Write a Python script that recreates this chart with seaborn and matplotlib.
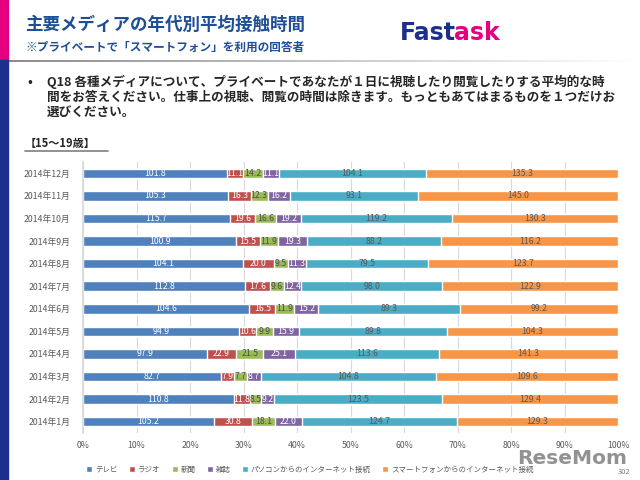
import matplotlib
matplotlib.use("Agg")
import matplotlib.pyplot as plt
import numpy as np
import pandas as pd
import seaborn as sns

months = ["2014年1月", "2014年2月", "2014年3月", "2014年4月", "2014年5月", "2014年6月",
          "2014年7月", "2014年8月", "2014年9月", "2014年10月", "2014年11月", "2014年12月"]
media = ["テレビ", "ラジオ", "新聞", "雑誌", "パソコンからのインターネット接続", "スマートフォンからのインターネット接続"]

tv = [105.2, 110.8, 82.7, 97.9, 94.9, 104.6, 112.8, 104.1, 100.9, 115.7, 105.3, 101.8]
radio = [30.8, 11.8, 7.9, 22.9, 10.6, 16.5, 17.6, 20.0, 15.5, 19.6, 16.3, 11.1]
news = [18.1, 8.5, 7.7, 21.5, 9.9, 11.9, 9.6, 9.5, 11.9, 16.6, 12.3, 14.2]
magazine = [22.0, 9.2, 8.7, 25.1, 15.9, 15.2, 12.4, 11.3, 19.3, 19.2, 16.2, 11.1]
pc = [124.7, 123.5, 104.8, 113.6, 89.8, 89.3, 98.0, 79.5, 88.2, 119.2, 93.1, 104.1]
phone = [129.3, 129.4, 109.6, 141.3, 104.3, 99.2, 122.9, 123.7, 116.2, 130.3, 145.0, 135.3]

colors = ["#4F81BD", "#C0504D", "#9BBB59", "#8064A2", "#4BACC6", "#F79646"]
text_colors = ["white", "white", "#4d4d4d", "white", "#595959", "#595959"]

sns.set_theme(style="white")
plt.rcParams['font.family'] = ['Noto Sans CJK JP', 'DejaVu Sans']

# months from December (top) to January (bottom)
order = months[::-1]
df = pd.DataFrame(dict(zip(media, [tv, radio, news, magazine, pc, phone])), index=months)
df = df.loc[order]
share = df.div(df.sum(axis=1), axis=0) * 100
cum = share.cumsum(axis=1)

fig = plt.figure(figsize=(6.4, 4.8), dpi=100)
fig.patch.set_facecolor("white")

# slide decoration
fig.patches.append(plt.Rectangle((0, 1 - 60 / 480), 8 / 640, 60 / 480, transform=fig.transFigure,
                                 color="#E4007F", zorder=0))
fig.patches.append(plt.Rectangle((0, 0), 8 / 640, 1 - 60 / 480, transform=fig.transFigure,
                                 color="#1D2F8C", zorder=0))
grad = fig.add_axes([8 / 640, 1 - 62 / 480, 632 / 640, 2 / 480])
grad.imshow(np.linspace(0.55, 1, 256)[None, :], cmap="gray", aspect="auto", vmin=0, vmax=1)
grad.axis("off")

fig.text(25 / 640, 1 - 25 / 480, "主要メディアの年代別平均接触時間", fontsize=12.6,
         fontweight="bold", color="#1F4E96", va="center")
fig.text(25 / 640, 1 - 47 / 480, "※プライベートで「スマートフォン」を利用の回答者", fontsize=8.4,
         fontweight="bold", color="#1F4E96", va="center")
fig.text(400 / 640, 1 - 33 / 480, "Fast", fontsize=17, fontweight="bold", color="#1D2F8C",
         va="center", family="DejaVu Sans")
fig.text(454 / 640, 1 - 33 / 480, "ask", fontsize=17, fontweight="bold", color="#E4007F",
         va="center", family="DejaVu Sans")

fig.text(27 / 640, 1 - 82 / 480, "•", fontsize=9, fontweight="bold", va="center")
question = ("Q18 各種メディアについて、プライベートであなたが１日に視聴したり閲覧したりする平均的な時\n"
            "間をお答えください。仕事上の視聴、閲覧の時間は除きます。もっともあてはまるものを１つだけお\n"
            "選びください。")
fig.text(47 / 640, 1 - 75 / 480, question, fontsize=9.1, fontweight="bold", va="top",
         linespacing=1.2)
fig.text(25 / 640, 1 - 143 / 480, "【15～19歳】", fontsize=8, fontweight="bold", va="center")
fig.lines.append(plt.Line2D([25 / 640, 108 / 640], [1 - 151 / 480, 1 - 151 / 480],
                            transform=fig.transFigure, color="#7f7f7f", lw=1.2))

ax = fig.add_axes([83 / 640, 47 / 480, 535 / 640, 271 / 480])

# stacked bars: draw cumulative totals from the widest down
for i in range(len(media) - 1, -1, -1):
    sns.barplot(x=cum[media[i]].values, y=order, color=colors[i], orient="h",
                width=0.42, ax=ax, saturation=1, label=media[i], zorder=2)

for i, m in enumerate(media):
    centers = cum[m] - share[m] / 2
    for j, mo in enumerate(order):
        ax.text(centers[mo], j, f"{df.loc[mo, m]:.1f}", ha="center", va="center",
                fontsize=6.3, color=text_colors[i], zorder=3)

ax.set_xlim(0, 100)
ax.set_ylim(11.5, -0.5)
ax.set_xticks(np.arange(0, 101, 10))
ax.set_xticklabels([f"{v}%" for v in range(0, 101, 10)])
ax.xaxis.grid(True, color="#d9d9d9", lw=0.8, zorder=0)
ax.set_axisbelow(True)
for s in ["top", "right", "bottom"]:
    ax.spines[s].set_visible(False)
ax.spines["left"].set_color("#d9d9d9")
ax.tick_params(axis="x", labelsize=6.3, colors="#595959", length=0, pad=6)
ax.tick_params(axis="y", labelsize=6.3, colors="#595959", length=3, color="#d9d9d9", pad=6)
ax.set_xlabel("")
ax.set_ylabel("")

handles, labels = ax.get_legend_handles_labels()
hmap = dict(zip(labels, handles))
ax.legend([hmap[m] for m in media], media, loc="center left", bbox_to_anchor=(0, -0.135),
          ncol=6, frameon=False, fontsize=5.4, handlelength=0.8, handleheight=0.8,
          handletextpad=0.4, columnspacing=1.5, labelcolor="#595959", borderaxespad=0)

fig.text(627 / 640, 1 - 458 / 480, "ReseMom", fontsize=14.5, fontweight="bold", color="#7f7f7f",
         alpha=0.85, ha="right", va="center", family="DejaVu Sans")
fig.text(630 / 640, 1 - 472 / 480, "302", fontsize=5.5, color="#7f7f7f", ha="right", va="center")

fig.savefig("out.png", dpi=100)
